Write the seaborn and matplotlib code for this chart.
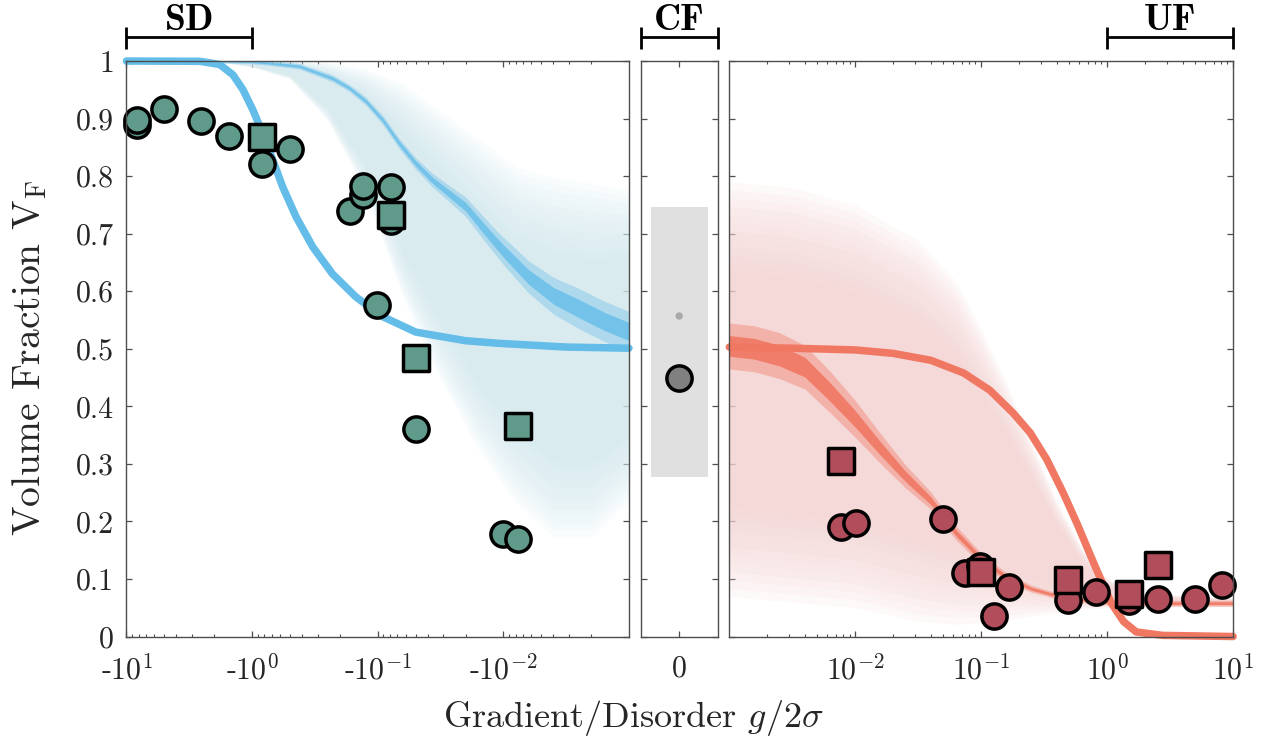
import numpy as np
import matplotlib
matplotlib.use("Agg")
import matplotlib.pyplot as plt
import matplotlib.transforms as mtransforms
from matplotlib.ticker import FixedLocator, FixedFormatter, LogLocator, NullFormatter
import seaborn as sns

# ---------------------------------------------------------------- data
# y axis
ytick_values = [0, 0.1, 0.2, 0.3, 0.4, 0.5, 0.6, 0.7, 0.8, 0.9, 1]
ytick_labels = ["0", "0.1", "0.2", "0.3", "0.4", "0.5", "0.6", "0.7", "0.8", "0.9", "1"]

# left panel (negative gradient, SD side)
left_ticks = [-10, -1, -0.1, -0.01]
left_tick_labels = ["-$10^{1}$", "-$10^{0}$", "-$10^{-1}$", "-$10^{-2}$"]
# right panel (positive gradient, UF side)
right_ticks = [0.01, 0.1, 1, 10]
right_tick_labels = ["$10^{-2}$", "$10^{-1}$", "$10^{0}$", "$10^{1}$"]

# experimental markers, SD side (teal)
sd_circle_g = [-8.3, -8.3, -5.0, -2.55, -1.54, -0.836, -0.50, -0.167, -0.130, -0.130,
               -0.0782, -0.0782, -0.101, -0.05, -0.0101, -0.0077]
sd_circle_v = [0.888, 0.897, 0.917, 0.896, 0.869, 0.821, 0.847, 0.740, 0.768, 0.782,
               0.781, 0.722, 0.576, 0.361, 0.179, 0.169]
sd_square_g = [-0.836, -0.0782, -0.05, -0.0077]
sd_square_v = [0.868, 0.732, 0.484, 0.365]

# experimental markers, UF side (red)
uf_circle_g = [0.00765, 0.0101, 0.0494, 0.0745, 0.098, 0.165, 0.127, 0.49, 0.81, 1.50, 2.52, 4.97, 8.2]
uf_circle_v = [0.191, 0.198, 0.205, 0.110, 0.122, 0.086, 0.035, 0.064, 0.078, 0.061, 0.065, 0.065, 0.089]
uf_square_g = [0.00765, 0.100, 0.49, 1.50, 2.52]
uf_square_v = [0.305, 0.112, 0.098, 0.0735, 0.125]

# CF (zero gradient)
cf_band_low, cf_band_high = 0.278, 0.746
cf_sim_mean = 0.557
cf_exp_value = 0.449

# theory curve, SD side
sd_theory_g = [-10, -2.61, -1.81, -1.42, -1.18, -0.986, -0.820, -0.684, -0.570, -0.446,
               -0.329, -0.229, -0.149, -0.0916, -0.0498, -0.0200, -0.0109, -0.00316, -0.001]
sd_theory_v = [1.0, 0.9995, 0.994, 0.976, 0.950, 0.915, 0.874, 0.828, 0.781, 0.729,
               0.677, 0.630, 0.590, 0.556, 0.529, 0.514, 0.5095, 0.503, 0.501]

# simulation cloud, SD side (centre and half-width)
sd_sim_g = [-10, -2.0, -1.0, -0.771, -0.420, -0.229, -0.168, -0.124, -0.0916, -0.0675, -0.0498,
            -0.0367, -0.0271, -0.0200, -0.0147, -0.0115, -0.0100, -0.00631, -0.00398, -0.00251,
            -0.00158, -0.00100]
sd_sim_v = [1.0, 1.0, 0.999, 0.997, 0.991, 0.970, 0.953, 0.930, 0.898, 0.857, 0.822,
            0.793, 0.770, 0.747, 0.712, 0.685, 0.670, 0.625, 0.592, 0.570, 0.548, 0.530]
sd_sim_half = [0.003, 0.003, 0.004, 0.004, 0.005, 0.006, 0.006, 0.007, 0.008, 0.009, 0.010,
               0.012, 0.014, 0.017, 0.020, 0.022, 0.024, 0.028, 0.032, 0.035, 0.035, 0.035]

# spread envelope, SD side
sd_env_g = [-2.0, -1.0, -0.501, -0.251, -0.126, -0.0631, -0.0316, -0.0158, -0.00794, -0.00398, -0.00200, -0.00100]
sd_env_upper = [1.0, 1.0, 1.0, 0.995, 0.98, 0.95, 0.90, 0.85, 0.80, 0.78, 0.77, 0.76]
sd_env_lower = [1.0, 0.99, 0.97, 0.90, 0.78, 0.60, 0.46, 0.34, 0.25, 0.19, 0.19, 0.25]

# theory curve, UF side
uf_theory_g = [0.001, 0.00316, 0.01, 0.02, 0.0398, 0.0724, 0.117, 0.178, 0.245, 0.331, 0.447,
               0.575, 0.724, 0.871, 1.08, 1.35, 1.70, 2.75, 10]
uf_theory_v = [0.503, 0.501, 0.498, 0.492, 0.480, 0.458, 0.428, 0.389, 0.354, 0.308, 0.250,
               0.197, 0.145, 0.104, 0.058, 0.026, 0.008, 0.002, 0.0]

# simulation cloud, UF side
uf_sim_g = [0.001, 0.00158, 0.00251, 0.00398, 0.00631, 0.01, 0.0158, 0.0251, 0.0398, 0.0631,
            0.1, 0.158, 0.251, 0.398, 0.631, 1.0, 3.16, 10]
uf_sim_v = [0.505, 0.500, 0.488, 0.468, 0.425, 0.378, 0.327, 0.278, 0.236, 0.180, 0.135,
            0.103, 0.083, 0.071, 0.064, 0.060, 0.058, 0.058]
uf_sim_half = [0.040, 0.040, 0.040, 0.038, 0.036, 0.032, 0.026, 0.020, 0.015, 0.012, 0.010,
               0.008, 0.006, 0.005, 0.005, 0.005, 0.005, 0.005]

# spread envelope, UF side
uf_env_g = [0.001, 0.00316, 0.01, 0.0316, 0.0631, 0.1, 0.158, 0.251, 0.398, 0.631, 1.0, 1.58, 10]
uf_env_upper = [0.77, 0.76, 0.73, 0.67, 0.60, 0.52, 0.43, 0.33, 0.23, 0.15, 0.10, 0.075, 0.066]
uf_env_lower = [0.09, 0.08, 0.07, 0.045, 0.038, 0.038, 0.04, 0.044, 0.047, 0.05, 0.051, 0.052, 0.052]

# regime brackets
regimes = ["SD", "CF", "UF"]
sd_bracket = (-10, -1)
uf_bracket = (1, 10)

# ---------------------------------------------------------------- style
sns.set_style("ticks")
plt.rcParams.update({
    "font.family": ["cmr10"],
    "mathtext.fontset": "cm",
    "axes.unicode_minus": False,
    "axes.formatter.use_mathtext": True,
})

teal = "#5f9a8b"
red = "#b24d5b"
blue_line = "#64bce8"
blue_dots = "#6cc0ea"
blue_env = "#d4e9f0"
red_line = "#f07862"
red_env = "#f5d3d3"
axis_color = "#4d4d4d"
label_color = "#262626"
MS = 330
MEW = 2.5

fig = plt.figure(figsize=(12.66, 7.38), dpi=100)
axL = fig.add_axes([0.0999, 0.1375, 0.3969, 0.7798])
axM = fig.add_axes([0.5061, 0.1375, 0.0608, 0.7798])
axR = fig.add_axes([0.5761, 0.1375, 0.3979, 0.7798])

mag = lambda a: -np.asarray(a, dtype=float)


def envelope(ax, x, lo, hi, color):
    """faded spread envelope: stacked translucent layers shrinking to the middle"""
    lo = np.asarray(lo); hi = np.asarray(hi)
    mid = 0.5 * (lo + hi); half = 0.5 * (hi - lo)
    for f in np.linspace(1.06, 0.6, 12):
        ax.fill_between(x, mid - f * half, mid + f * half, color=color, alpha=0.12, lw=0, zorder=1)


def cloud(ax, x, c, h, color):
    """simulation point cloud: sparse outer layer and dense core"""
    c = np.asarray(c); h = np.asarray(h)
    ax.fill_between(x, c - h, c + h, color=color, alpha=0.4, lw=0, zorder=2)
    ax.fill_between(x, c - 0.45 * h, c + 0.45 * h, color=color, alpha=0.9, lw=0, zorder=2)


# ----- left panel
axL.set_xscale("log")
axL.set_xlim(10, 1e-3)
envelope(axL, mag(sd_env_g), sd_env_lower, sd_env_upper, blue_env)
cloud(axL, mag(sd_sim_g), sd_sim_v, sd_sim_half, blue_dots)
sns.lineplot(x=mag(sd_theory_g), y=sd_theory_v, ax=axL, color=blue_line, lw=5.4,
             sort=False, estimator=None, zorder=3, clip_on=False)
sns.scatterplot(x=mag(sd_circle_g), y=sd_circle_v, ax=axL, marker="o", s=MS, color=teal,
                edgecolor="black", linewidth=MEW, zorder=5, clip_on=False, legend=False)
sns.scatterplot(x=mag(sd_square_g), y=sd_square_v, ax=axL, marker="s", s=MS, color=teal,
                edgecolor="black", linewidth=MEW, zorder=6, clip_on=False, legend=False)
axL.xaxis.set_major_locator(FixedLocator(mag(left_ticks)))
axL.xaxis.set_major_formatter(FixedFormatter(left_tick_labels))
axL.xaxis.set_minor_locator(LogLocator(base=10, subs=np.arange(2, 10), numticks=20))
axL.xaxis.set_minor_formatter(NullFormatter())

# ----- middle panel
axM.set_xlim(-1, 1)
axM.bar([0], [cf_band_high - cf_band_low], bottom=cf_band_low, width=1.48, color="#e0e0e0",
        lw=0, zorder=1)
sns.scatterplot(x=[0], y=[cf_sim_mean], ax=axM, s=28, color="#a9a9a9", edgecolor="none",
                zorder=3, legend=False)
sns.scatterplot(x=[0], y=[cf_exp_value], ax=axM, marker="o", s=MS, color="#808080",
                edgecolor="black", linewidth=MEW, zorder=5, legend=False)
axM.xaxis.set_major_locator(FixedLocator([0]))
axM.xaxis.set_major_formatter(FixedFormatter(["0"]))

# ----- right panel
axR.set_xscale("log")
axR.set_xlim(1e-3, 10)
envelope(axR, uf_env_g, uf_env_lower, uf_env_upper, red_env)
cloud(axR, uf_sim_g, uf_sim_v, uf_sim_half, red_line)
sns.lineplot(x=uf_theory_g, y=uf_theory_v, ax=axR, color=red_line, lw=5.4,
             sort=False, estimator=None, zorder=3, clip_on=False)
sns.scatterplot(x=uf_circle_g, y=uf_circle_v, ax=axR, marker="o", s=MS, color=red,
                edgecolor="black", linewidth=MEW, zorder=5, clip_on=False, legend=False)
sns.scatterplot(x=uf_square_g, y=uf_square_v, ax=axR, marker="s", s=MS, color=red,
                edgecolor="black", linewidth=MEW, zorder=6, clip_on=False, legend=False)
axR.xaxis.set_major_locator(FixedLocator(right_ticks))
axR.xaxis.set_major_formatter(FixedFormatter(right_tick_labels))
axR.xaxis.set_minor_locator(LogLocator(base=10, subs=np.arange(2, 10), numticks=20))
axR.xaxis.set_minor_formatter(NullFormatter())

# ----- common axis styling
for ax in (axL, axM, axR):
    ax.set_ylim(0, 1)
    ax.set_xlabel("")
    ax.set_ylabel("")
    ax.yaxis.set_major_locator(FixedLocator(ytick_values))
    for sp in ax.spines.values():
        sp.set_visible(True)
        sp.set_color(axis_color)
        sp.set_linewidth(1.0)
        sp.set_zorder(10)
    ax.tick_params(which="both", direction="in", top=True, right=True, bottom=True, left=True,
                   color=axis_color, labelcolor=label_color, labelsize=21.5)
    ax.tick_params(which="major", length=4.5, width=0.9)
    ax.tick_params(which="minor", length=2.5, width=0.8)
    ax.tick_params(axis="x", which="major", pad=13)
    ax.tick_params(axis="y", which="major", pad=9)
    ax.set_facecolor("white")
axL.yaxis.set_major_formatter(FixedFormatter(ytick_labels))
axM.tick_params(axis="y", labelleft=False)
axR.tick_params(axis="y", labelleft=False)


# ----- regime brackets
def bracket(ax, x0, x1, label):
    tr = mtransforms.blended_transform_factory(ax.transData, ax.transAxes)
    kw = dict(transform=tr, color="black", lw=2.0, clip_on=False, solid_capstyle="butt")
    ax.plot([x0, x1], [1.042, 1.042], **kw)
    ax.plot([x0, x0], [1.021, 1.060], **kw)
    ax.plot([x1, x1], [1.021, 1.060], **kw)
    if ax.get_xscale() == "log":
        xm = np.sqrt(x0 * x1)
    else:
        xm = 0.5 * (x0 + x1)
    ax.text(xm, 1.054, label, transform=tr, ha="center", va="baseline", fontsize=27,
            fontfamily="cmb10", color="black")


bracket(axL, -sd_bracket[0], -sd_bracket[1], regimes[0])
bracket(axM, -1, 1, regimes[1])
bracket(axR, uf_bracket[0], uf_bracket[1], regimes[2])

fig.text(0.5004, 0.015, "Gradient/Disorder $g/2\\sigma$", ha="center", va="baseline",
         fontsize=26, color=label_color)
fig.text(0.0316, 0.515, "Volume Fraction $\\mathrm{V_F}$", rotation=90, rotation_mode="anchor",
         ha="center", va="baseline", fontsize=28.5, color=label_color)

fig.savefig("out.png", dpi=100)
